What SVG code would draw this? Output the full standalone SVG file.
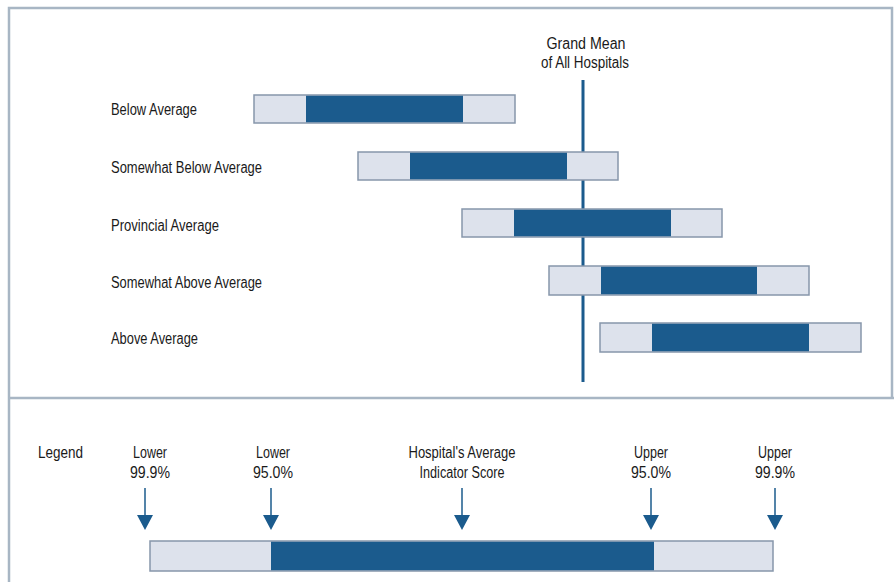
<svg xmlns="http://www.w3.org/2000/svg" width="894" height="582" viewBox="0 0 894 582">
<style>
.t{font-family:"Liberation Sans Narrow","Liberation Sans",Arial,sans-serif;font-size:16px;fill:#1a1a1a}
.c{text-anchor:middle}
.lt{fill:#dde2ec;stroke:#8796ab;stroke-width:1.5}
.dk{fill:#1b5b8d}
.frame{fill:none;stroke:#a8b6c4;stroke-width:2.5}
</style>
<defs>
<marker id="ah" markerWidth="16" markerHeight="18" refX="1" refY="8" orient="auto" markerUnits="userSpaceOnUse" viewBox="0 0 16 16">
<path d="M0,0 L15,8 L0,16 Z" fill="#1b5b8d"/>
</marker>
</defs>
<rect width="894" height="582" fill="#fff"/>
<path class="frame" d="M9,582 V8 H892 V398 M9,398 H894"/>

<g id="grand-mean">
<text class="t c" x="586" y="49" textLength="79" lengthAdjust="spacingAndGlyphs">Grand Mean</text>
<text class="t c" x="585" y="68" textLength="88" lengthAdjust="spacingAndGlyphs">of All Hospitals</text>
<line x1="583" y1="80" x2="583" y2="382" stroke="#1b5b8d" stroke-width="3"/>
</g>

<g id="below-average">
<text class="t" x="111" y="115" textLength="86" lengthAdjust="spacingAndGlyphs">Below Average</text>
<rect class="lt" x="254" y="95" width="261" height="28"/>
<rect class="dk" x="306" y="95.75" width="157" height="26.5"/>
</g>
<g id="somewhat-below-average">
<text class="t" x="111" y="173" textLength="151" lengthAdjust="spacingAndGlyphs">Somewhat Below Average</text>
<rect class="lt" x="358" y="152" width="260" height="28"/>
<rect class="dk" x="410" y="152.75" width="157" height="26.5"/>
</g>
<g id="provincial-average">
<text class="t" x="111" y="231" textLength="108" lengthAdjust="spacingAndGlyphs">Provincial Average</text>
<rect class="lt" x="462" y="209" width="260" height="28"/>
<rect class="dk" x="514" y="209.75" width="157" height="26.5"/>
</g>
<g id="somewhat-above-average">
<text class="t" x="111" y="288" textLength="151" lengthAdjust="spacingAndGlyphs">Somewhat Above Average</text>
<rect class="lt" x="549" y="266" width="260" height="29"/>
<rect class="dk" x="601" y="266.75" width="156" height="27.5"/>
</g>
<g id="above-average">
<text class="t" x="111" y="344" textLength="87" lengthAdjust="spacingAndGlyphs">Above Average</text>
<rect class="lt" x="600" y="323" width="261" height="29"/>
<rect class="dk" x="652" y="323.75" width="157" height="27.5"/>
</g>

<g id="legend">
<text class="t" x="38" y="458" textLength="45" lengthAdjust="spacingAndGlyphs">Legend</text>
<text class="t c" x="150" y="458" textLength="34" lengthAdjust="spacingAndGlyphs">Lower</text>
<text class="t c" x="150" y="478" textLength="40" lengthAdjust="spacingAndGlyphs">99.9%</text>
<text class="t c" x="273" y="458" textLength="34" lengthAdjust="spacingAndGlyphs">Lower</text>
<text class="t c" x="273" y="478" textLength="40" lengthAdjust="spacingAndGlyphs">95.0%</text>
<text class="t c" x="462" y="458" textLength="107" lengthAdjust="spacingAndGlyphs">Hospital's Average</text>
<text class="t c" x="462" y="478" textLength="85" lengthAdjust="spacingAndGlyphs">Indicator Score</text>
<text class="t c" x="651" y="458" textLength="34" lengthAdjust="spacingAndGlyphs">Upper</text>
<text class="t c" x="651" y="478" textLength="40" lengthAdjust="spacingAndGlyphs">95.0%</text>
<text class="t c" x="775" y="458" textLength="34" lengthAdjust="spacingAndGlyphs">Upper</text>
<text class="t c" x="775" y="478" textLength="40" lengthAdjust="spacingAndGlyphs">99.9%</text>
<rect class="lt" x="150" y="541" width="623" height="30"/>
<rect class="dk" x="271" y="541.75" width="383" height="28.5"/>
</g>

<g id="connectors" stroke="#1b5b8d" stroke-width="1.5" marker-end="url(#ah)">
<line x1="145" y1="488" x2="145" y2="516"/>
<line x1="271" y1="488" x2="271" y2="516"/>
<line x1="462" y1="488" x2="462" y2="516"/>
<line x1="651" y1="488" x2="651" y2="516"/>
<line x1="775" y1="488" x2="775" y2="516"/>
</g>
</svg>
